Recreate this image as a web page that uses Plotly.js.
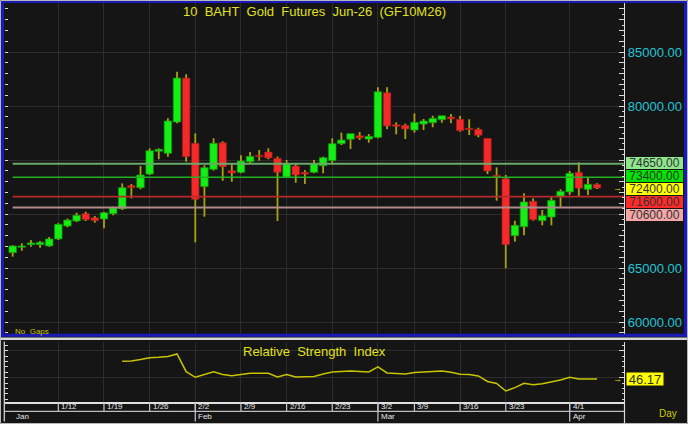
<!DOCTYPE html>
<html><head><meta charset="utf-8">
<script src="https://cdn.plot.ly/plotly-3.0.1.min.js"></script>
<style>html,body{margin:0;padding:0;background:#151515;overflow:hidden}#chart{width:688px;height:424px}</style>
</head><body><div id="chart"></div>
<script>
// ---------------- data ----------------
const dates = ['1/5','1/6','1/7','1/8','1/9','1/12','1/13','1/14','1/15','1/16','1/19','1/20','1/21','1/22','1/23','1/26','1/27','1/28','1/29','1/30',
  '2/2','2/3','2/4','2/5','2/6','2/9','2/10','2/11','2/12','2/13','2/16','2/17','2/18','2/19','2/20','2/23','2/24','2/25','2/26','2/27',
  '3/2','3/4','3/5','3/6','3/9','3/10','3/11','3/12','3/13','3/16','3/17','3/18','3/19','3/20','3/23','3/24','3/25','3/26','3/27','3/30','3/31',
  '4/1','4/2','4/3','4/7'];
const openP = [66420,66920,67160,67160,67040,67690,68890,69350,70030,69660,69540,70030,70490,72620,72440,73700,75810,75620,78520,82590,
  76550,72530,74140,76600,74010,73860,74840,75440,75740,75160,73400,74440,73860,73860,74470,74940,76510,76920,77250,76940,
  77100,81230,78270,78210,77780,78330,78450,78730,78980,78770,77940,77840,77010,73580,73270,67990,68820,71180,69380,69720,71600,
  72040,73860,72290,72750];
const highP = [67100,67290,67590,67500,67870,69140,69570,70120,70210,69820,70210,70680,72840,72780,74440,76080,76080,78860,83180,82940,
  77470,74510,77010,76730,74630,75440,75740,75930,76080,75310,75000,74600,74070,75000,75310,77010,77530,77440,77590,77410,
  81730,81730,78490,78360,79320,78800,79100,79100,79260,79070,78770,77990,77010,74320,73610,69380,71920,71450,70370,71550,72290,
  73980,74790,73330,72840];
const lowP = [66050,66600,66970,66880,66970,67590,68770,69260,69350,69200,68680,69880,70370,71450,72290,73610,75070,75310,78400,74840,
  67380,69750,74010,73080,72990,73770,74660,74940,75070,69350,73400,72900,72780,73770,73770,74690,76390,76020,76850,76600,
  77010,77840,77380,76940,77530,77780,78030,78450,78400,77620,77310,77100,73700,71230,64970,67440,68030,69380,68950,68950,70620,
  71760,71600,71760,72310];
const closeP = [67040,67040,67320,67380,67690,69050,69440,69880,69470,69380,70120,70560,72440,72440,73610,75860,75990,78610,82590,75310,
  71360,74290,76550,74380,73800,74910,75340,75310,75190,73860,74630,73610,73700,74630,75210,76510,76850,77440,77040,77190,
  81320,78150,78120,77870,78490,78610,78860,79100,78800,77710,77810,77290,73980,73430,67160,68950,71110,69470,69840,71270,72100,
  73770,72380,72750,72400];
const rsiVals = [null,null,null,null,null,null,null,null,null,null,null,null,63.9,64.2,65.7,67.5,67.9,68.7,71.2,53.5,
  47.9,50.7,53.5,50.7,49.5,50.7,51.9,51.9,51.9,48.2,50.7,48.2,48.2,48.7,51.2,53.2,53.7,54.2,53.7,53.2,
  58.4,52.2,51.7,51.2,52.7,53.2,53.7,54.2,52.9,50.9,50.7,49.2,43.7,41.7,34.2,37.5,41.9,40.5,41.5,43.2,45.2,
  47.9,46.2,46.2,46.17];
const levelPrices = [74650, 73400, 71600, 70600];
const boxPrices = [74650, 73400, 72400, 71600, 70600];
const lastPrice = 72400;
const lastRsi = 46.17;
const weekLabels = ['1/12','1/19','1/26','2/2','2/9','2/16','2/23','3/2','3/9','3/16','3/23','4/1'];
const monthStarts = ['1/5','2/2','3/2','4/1'];
const monthLabels = ['Jan','Feb','Mar','Apr'];
const priceTickVals = [60000,65000,70000,75000,80000,85000];
const priceTickText = ['60000.00','65000.00','','','80000.00','85000.00'];

// ---------------- geometry helpers (pixel -> paper) ----------------
const L=5, R=624, T=3, B=402;
const px = p => (p-L)/(R-L);
const py = p => 1-(p-T)/(B-T);
const idx = d => dates.indexOf(d);
const xs = dates.map((d,i)=>i);
const XR = [-0.84, 66.95];
const YR = [58704, 89537];
const RR = [23.17, 83.17];

const GREEN='#14ee14', RED='#f42a2a';
const up = closeP.map((c,i)=>c>=openP[i]);

// bodies
const bodies = {
  type:'bar', x:xs, base:xs.map(i=>Math.min(openP[i],closeP[i])),
  y:xs.map(i=>Math.abs(closeP[i]-openP[i])), width:0.82,
  marker:{color:up.map(u=>u?GREEN:RED), line:{color:up.map(u=>u?'#0b9a0b':'#a01818'), width:0.7}},
  xaxis:'x', yaxis:'y', hoverinfo:'skip', showlegend:false
};
// wicks (outside body)
const wx=[], wy=[];
xs.forEach(i=>{
  const lo=Math.min(openP[i],closeP[i]), hi=Math.max(openP[i],closeP[i]);
  wx.push(i,i,null,i,i,null); wy.push(lowP[i],lo,null,hi,highP[i],null);
});
const wicks = {type:'scatter', mode:'lines', x:wx, y:wy, line:{color:'#aaa214', width:1.8},
  xaxis:'x', yaxis:'y', hoverinfo:'skip', showlegend:false, connectgaps:false};

const levelStyles = [['#6aa86a',2],['#22b022',1.4],['#b82a2a',1.8],['#b08a8a',2.2]];
const levelTraces = levelPrices.map((p,k)=>({type:'scatter', mode:'lines', x:[0, XR[1]], y:[p,p],
  line:{color:levelStyles[k][0], width:levelStyles[k][1]}, xaxis:'x', yaxis:'y', hoverinfo:'skip', showlegend:false}));

const rsiTrace = {type:'scatter', mode:'lines', x:xs, y:rsiVals, line:{color:'#c8c400', width:1.5},
  xaxis:'x2', yaxis:'y2', hoverinfo:'skip', showlegend:false};

const dummies = ['y3','y4','y5'].map(a=>({type:'scatter', x:[], y:[], xaxis: a==='y5'?'x2':'x', yaxis:a, showlegend:false, hoverinfo:'skip'}));

const weekIdx = weekLabels.map(idx);
const grid = '#2d2d2d';
const FONT = 'Liberation Sans, Arial, sans-serif';

const ann = [];
ann.push({text:'10\u00a0\u00a0BAHT\u00a0\u00a0Gold\u00a0\u00a0Futures\u00a0\u00a0Jun-26\u00a0\u00a0(GF10M26)', xref:'paper', yref:'paper',
  x:0.5, y:py(11), xanchor:'center', yanchor:'middle', showarrow:false, font:{family:FONT, size:13, color:'#e2e21a'}});
ann.push({text:'Relative\u00a0\u00a0Strength\u00a0\u00a0Index', xref:'paper', yref:'paper',
  x:0.5, y:py(351.5), xanchor:'center', yanchor:'middle', showarrow:false, font:{family:FONT, size:13, color:'#e2e21a'}});
ann.push({text:'No\u00a0\u00a0Gaps', xref:'paper', yref:'paper', x:px(13), y:py(331.5), xanchor:'left', yanchor:'middle',
  showarrow:false, font:{family:FONT, size:8, color:'#c8c400'}});
ann.push({text:'Day', xref:'paper', yref:'paper', x:px(668), y:py(413), xanchor:'center', yanchor:'middle',
  showarrow:false, font:{family:FONT, size:10, color:'#d0cc00'}});
// level boxes (stacked)
const boxBg = ['#8ee68e','#00e400','#ffff00','#ff2a2a','#f4a6a6'];
const boxShift = [0.8, 1.5, -0.6, -5.2, -7.2];
boxPrices.forEach((p,k)=>ann.push({text:p.toFixed(2), xref:'paper', yref:'y', x:px(625.7), y:p, yshift:boxShift[k],
  xanchor:'left', yanchor:'middle', showarrow:false, bgcolor:boxBg[k], borderpad:0, borderwidth:0, width:57, height:11.8,
  font:{family:FONT, size:12, color:'#333333'}}));
ann.push({text:lastRsi.toFixed(2), xref:'paper', yref:'y2', x:px(625.7), y:lastRsi, xanchor:'left', yanchor:'middle',
  showarrow:false, bgcolor:'#ffff00', borderpad:0, width:36, height:12, font:{family:FONT, size:13, color:'#333333'}});
ann.push({text:'→', xref:'paper', yref:'y', x:px(617), y:lastPrice, xanchor:'center', yanchor:'middle', showarrow:false,
  font:{family:FONT, size:9, color:'#e0d800'}});
ann.push({text:'→', xref:'paper', yref:'y2', x:px(617), y:lastRsi, xanchor:'center', yanchor:'middle', showarrow:false,
  font:{family:FONT, size:9, color:'#e0d800'}});
// date rows
weekLabels.forEach(w=>ann.push({text:w, xref:'x', yref:'paper', x:idx(w), xshift:1, y:py(406.6), xanchor:'left', yanchor:'middle',
  showarrow:false, font:{family:FONT, size:8, color:'#e6e6e6'}}));
monthStarts.forEach((m,k)=>ann.push({text:monthLabels[k], xref:'x', yref:'paper', x:idx(m), xshift:1, y:py(416.4), xanchor:'left', yanchor:'middle',
  showarrow:false, font:{family:FONT, size:8, color:'#e6e6e6'}}));

const shapes = [];
// date area separators
weekLabels.forEach(w=>shapes.push({type:'line', xref:'x', yref:'paper', x0:idx(w), x1:idx(w), y0:py(402), y1:py(411.3), line:{color:'#c8c8c8', width:1.2}}));
monthStarts.slice(1).forEach(m=>shapes.push({type:'line', xref:'x', yref:'paper', x0:idx(m), x1:idx(m), y0:py(402), y1:py(421.5), line:{color:'#c8c8c8', width:1.2}}));
shapes.push({type:'line', xref:'paper', yref:'paper', x0:px(4.5), x1:px(624.5), y0:py(411.3), y1:py(411.3), line:{color:'#bdbdbd', width:1.3}});
shapes.push({type:'line', xref:'paper', yref:'paper', x0:px(4.3), x1:px(4.3), y0:py(341.5), y1:py(421.5), line:{color:'#cfcfcf', width:1.3}});
shapes.push({type:'line', xref:'paper', yref:'paper', x0:px(624.5), x1:px(624.5), y0:py(402), y1:py(423), line:{color:'#d8d8d8', width:1.2}});
// separator band between panels
shapes.push({type:'line', xref:'paper', yref:'paper', x0:px(0), x1:px(688), y0:py(338.8), y1:py(338.8), line:{color:'#d6d6d6', width:2.5}});
// main panel blue frame
shapes.push({type:'rect', xref:'paper', yref:'paper', x0:px(2.5), x1:px(685.5), y0:py(1.5), y1:py(335.2), line:{color:'#1a1ab8', width:3}});
// outer frame
shapes.push({type:'rect', xref:'paper', yref:'paper', x0:px(0.5), x1:px(687.5), y0:py(0.5), y1:py(423.5), line:{color:'#b8b8b8', width:1}});

const tickC = '#d8d8d8';
const layout = {
  width:688, height:424, margin:{l:L, r:688-R, t:T, b:424-B},
  paper_bgcolor:'#151515', plot_bgcolor:'#151515', showlegend:false, bargap:0, barmode:'overlay',
  font:{family:FONT},
  xaxis:{domain:[0,1], range:XR, anchor:'y', tickmode:'array', tickvals:weekIdx, showticklabels:false, ticks:'',
    showgrid:true, gridcolor:grid, gridwidth:1, zeroline:false, showline:false, fixedrange:true},
  xaxis2:{domain:[0,1], range:XR, anchor:'y2', matches:'x', tickmode:'array', tickvals:weekIdx, showticklabels:false, ticks:'',
    showgrid:true, gridcolor:grid, zeroline:false, showline:true, linecolor:'#e0e0e0', linewidth:2, fixedrange:true},
  yaxis:{domain:[py(336),1], range:YR, side:'right', anchor:'x', tickmode:'array', tickvals:priceTickVals, ticktext:priceTickText,
    tickfont:{family:FONT, size:13, color:'#22c6d6'}, ticks:'inside', ticklen:5, tickcolor:tickC, tickwidth:1,
    minor:{tickmode:'linear', tick0:0, dtick:500, ticks:'inside', ticklen:2.5, tickcolor:tickC, showgrid:false},
    showgrid:true, gridcolor:grid, zeroline:false, showline:true, linecolor:'#e0e0e0', linewidth:1.2, fixedrange:true},
  yaxis3:{overlaying:'y', range:YR, side:'right', anchor:'x', tickmode:'linear', tick0:0, dtick:1000, ticks:'inside', ticklen:5,
    tickcolor:tickC, showticklabels:false, showgrid:false, zeroline:false, showline:false, fixedrange:true},
  yaxis4:{overlaying:'y', range:YR, side:'left', anchor:'x', tickmode:'linear', tick0:0, dtick:1000, ticks:'inside', ticklen:3,
    tickcolor:tickC, showticklabels:false, showgrid:false, zeroline:false, showline:false, fixedrange:true},
  yaxis2:{domain:[0,py(342)], range:RR, side:'right', anchor:'x2', tickmode:'array', tickvals:[47.5,74.5], showticklabels:false,
    ticks:'inside', ticklen:5, tickcolor:tickC,
    minor:{tickmode:'linear', tick0:47.5, dtick:5.4, ticks:'inside', ticklen:2.5, tickcolor:tickC, showgrid:false},
    showgrid:true, gridcolor:grid, zeroline:false, showline:true, linecolor:'#e0e0e0', linewidth:1.2, fixedrange:true},
  yaxis5:{overlaying:'y2', range:RR, side:'left', anchor:'x2', tickmode:'linear', tick0:47.5, dtick:5.4, ticks:'inside', ticklen:3,
    tickcolor:tickC, showticklabels:false, showgrid:false, zeroline:false, showline:false, fixedrange:true},
  annotations:ann, shapes:shapes
};

Plotly.newPlot('chart', [bodies, wicks, ...levelTraces, rsiTrace, ...dummies], layout, {staticPlot:true, displayModeBar:false});
</script></body></html>
